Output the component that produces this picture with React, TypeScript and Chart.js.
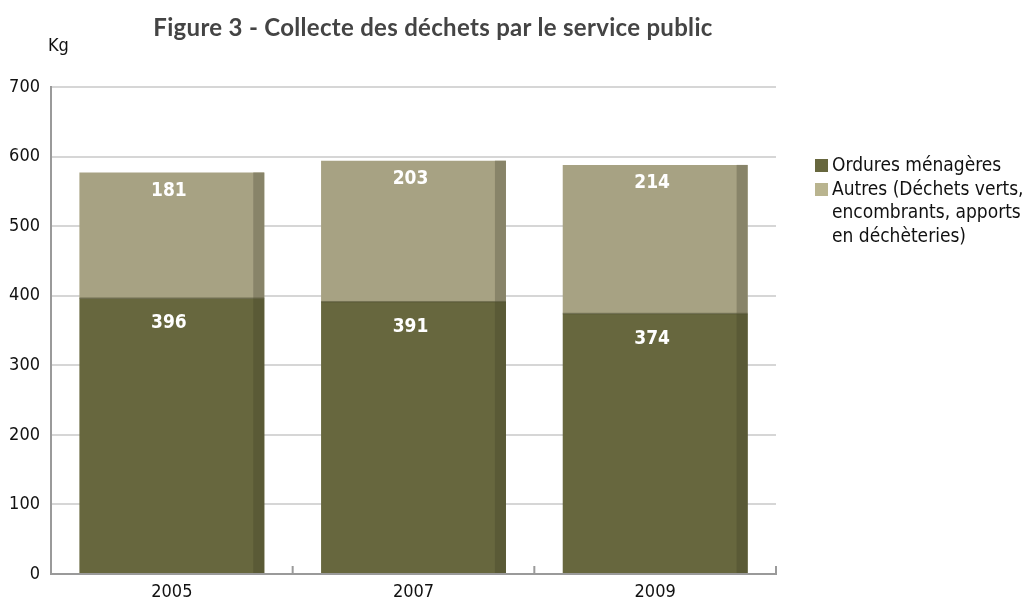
import React, { useEffect, useRef } from "react";
import { Chart, registerables } from "chart.js";

Chart.register(...registerables);

const categories = ["2005", "2007", "2009"];
const ordures = [396, 391, 374];
const autres = [181, 203, 214];
const yTicks = [0, 100, 200, 300, 400, 500, 600, 700];
const legendOrdures = ["Ordures ménagères"];
const legendAutres = ["Autres (Déchets verts,", "encombrants, apports", "en déchèteries)"];
const titleText = "Figure 3 - Collecte des déchets par le service public";
const unitText = "Kg";

const DARK = "#67673e";
const DARK_EDGE = "#5a5a36";
const LIGHT = "#a7a283";
const LIGHT_EDGE = "#888469";
const NARROW = "'Liberation Sans Narrow', 'DejaVu Sans Condensed', 'Roboto Condensed', Arial, sans-serif";

const edgePlugin = {
  id: "edgeAndLabels",
  afterDatasetsDraw(chart: any) {
    const ctx = chart.ctx;
    const edges = [DARK_EDGE, LIGHT_EDGE];
    const labelOffsets = [25, 18];
    ctx.save();
    chart.data.datasets.forEach((ds: any, di: number) => {
      const meta = chart.getDatasetMeta(di);
      meta.data.forEach((bar: any) => {
        const right = bar.x + bar.width / 2;
        const top = Math.min(bar.y, bar.base);
        const h = Math.abs(bar.base - bar.y);
        ctx.fillStyle = edges[di];
        ctx.fillRect(right - 11, top, 11, h);
      });
    });
    const m0 = chart.getDatasetMeta(0);
    m0.data.forEach((bar: any) => {
      ctx.fillStyle = "rgba(80,80,50,0.6)";
      ctx.fillRect(bar.x - bar.width / 2, bar.y - 1, bar.width, 1.5);
    });
    ctx.fillStyle = "#ffffff";
    ctx.font = "bold 19px " + NARROW;
    ctx.textAlign = "center";
    ctx.textBaseline = "middle";
    chart.data.datasets.forEach((ds: any, di: number) => {
      const meta = chart.getDatasetMeta(di);
      meta.data.forEach((bar: any, i: number) => {
        const top = Math.min(bar.y, bar.base);
        ctx.fillText(String(ds.data[i]), bar.x - 3, top + labelOffsets[di]);
      });
    });
    const xs = chart.scales.x;
    const area = chart.chartArea;
    ctx.strokeStyle = "#9a9a9a";
    ctx.lineWidth = 2;
    for (let i = 1; i <= categories.length; i++) {
      const px = i < categories.length
        ? (xs.getPixelForValue(i - 1) + xs.getPixelForValue(i)) / 2
        : area.right;
      ctx.beginPath();
      ctx.moveTo(px, area.bottom);
      ctx.lineTo(px, area.bottom - 8);
      ctx.stroke();
    }
    ctx.restore();
  },
};

export default function App() {
  const ref = useRef<HTMLCanvasElement | null>(null);
  useEffect(() => {
    if (!ref.current) return;
    const chart = new Chart(ref.current, {
      type: "bar",
      data: {
        labels: categories,
        datasets: [
          { label: legendOrdures.join(" "), data: ordures, backgroundColor: DARK, barPercentage: 0.765, categoryPercentage: 1 },
          { label: legendAutres.join(" "), data: autres, backgroundColor: LIGHT, barPercentage: 0.765, categoryPercentage: 1 },
        ],
      },
      options: {
        responsive: false,
        animation: false,
        layout: { padding: { left: 0, right: 246, top: 87, bottom: 0 } },
        plugins: { legend: { display: false }, title: { display: false }, tooltip: { enabled: false } },
        scales: {
          x: {
            stacked: true,
            grid: { display: false, drawTicks: false },
            border: { display: true, color: "#9a9a9a", width: 2 },
            ticks: { color: "#111", font: { family: NARROW, size: 18 }, padding: 8 },
            afterFit(scale: any) { scale.height = 32; },
          },
          y: {
            stacked: true,
            min: 0,
            max: 700,
            afterBuildTicks(scale: any) { scale.ticks = yTicks.map((v) => ({ value: v })); },
            grid: { color: "#d6d6d6", lineWidth: 2, drawTicks: false },
            border: { display: true, color: "#9a9a9a", width: 2 },
            ticks: { color: "#111", font: { family: NARROW, size: 18 }, padding: 11 },
            afterFit(scale: any) { scale.width = 51; },
          },
        },
      },
      plugins: [edgePlugin],
    });
    return () => chart.destroy();
  }, []);

  return (
    <div style={{ position: "fixed", left: 0, top: 0, width: 1022, height: 606, background: "#fff" }}>
      <canvas ref={ref} width={1022} height={606} style={{ position: "absolute", left: 0, top: 0 }} />
      <div style={{ position: "absolute", left: 0, width: 866, top: 12, textAlign: "center", fontFamily: "Lato, 'Open Sans', sans-serif", fontWeight: 700, fontSize: 24, color: "#444", letterSpacing: 0.3, whiteSpace: "nowrap" }}>
        {titleText}
      </div>
      <div style={{ position: "absolute", left: 48, top: 34, fontFamily: NARROW, fontSize: 18, color: "#111" }}>{unitText}</div>
      <div style={{ position: "absolute", left: 815, top: 153, fontFamily: NARROW, fontSize: 19, color: "#111", lineHeight: "23.5px", whiteSpace: "nowrap" }}>
        <div style={{ position: "relative", paddingLeft: 17 }}>
          <span style={{ position: "absolute", left: 0, top: 6, width: 13, height: 13, background: DARK }} />
          {legendOrdures[0]}
        </div>
        <div style={{ position: "relative", paddingLeft: 17 }}>
          <span style={{ position: "absolute", left: 0, top: 6, width: 13, height: 13, background: "#b9b48f" }} />
          {legendAutres.map((t, i) => (<div key={i}>{t}</div>))}
        </div>
      </div>
    </div>
  );
}
